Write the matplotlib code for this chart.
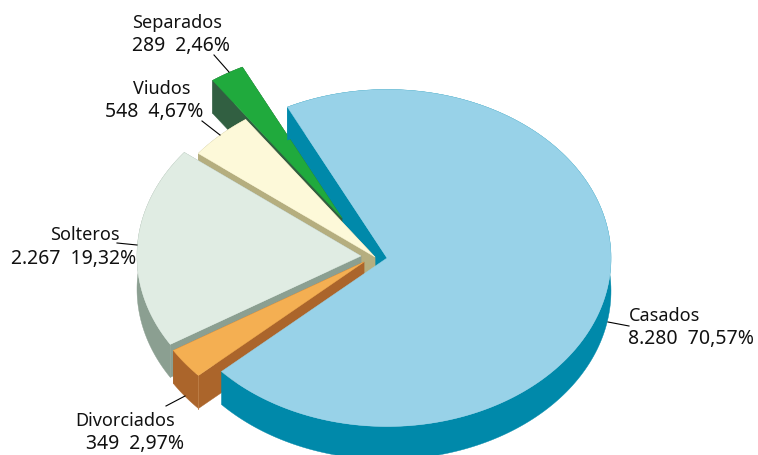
import matplotlib
matplotlib.use("Agg")
import matplotlib.pyplot as plt
import numpy as np

plt.rcParams['font.family'] = ['Noto Sans', 'DejaVu Sans']

# slices in clockwise order, starting at Casados
names = ["Casados", "Divorciados", "Solteros", "Viudos", "Separados"]
values = [8280, 349, 2267, 548, 289]
value_labels = ["8.280", "349", "2.267", "548", "289"]
pct_labels = ["70,57%", "2,97%", "19,32%", "4,67%", "2,46%"]

top_colors = ["#98d2e8", "#f4af52", "#e0ece3", "#fdf9d9", "#20aa3d"]
side_colors = ["#0089aa", "#ab652b", "#8b9f91", "#b5ae7f", "#315f41"]

# apex of every slice in pixels (the exploded look)
apex = [(387, 258), (364, 262), (361, 256), (375, 257), (342, 218)]
a, b = 224, 168.5
depth = 33
start = -26.4

# text: left edge of each line and baselines
name_pos = [(629, 321), (75, 426), (50, 240), (133, 94), (132, 28)]
val_pos = [(628, 344), (86, 449), (11, 264), (105, 117), (132, 51)]
leaders = [[(608, 322), (629, 326)], [(166, 406), (185, 396)], [(117, 243), (137, 245)],
           [(202, 121), (220, 135)], [(214, 55), (229, 72)]]

fig = plt.figure(figsize=(7.58, 4.55), dpi=100)
ax = fig.add_axes([0, 0, 1, 1])
ax.set_xlim(0, 758)
ax.set_ylim(455, 0)
ax.axis("off")

edges = start + np.concatenate([[0], np.cumsum(values)]) / sum(values) * 360


def arc(i):
    t = np.radians(np.linspace(edges[i], edges[i + 1], 200))
    cx, cy = apex[i]
    return cx + a * np.sin(t), cy - b * np.cos(t)


def fill(x, y, color, z):
    ax.fill(x, y, color=color, lw=0.3, zorder=z)


def draw_slice(i, z, cuts=True):
    x, y = arc(i)
    cx, cy = apex[i]
    fill(np.r_[x, x[::-1]], np.r_[y, y[::-1] + depth], side_colors[i], z)
    if cuts:
        for px, py in [(x[0], y[0]), (x[-1], y[-1])]:
            fill([px, cx, cx, px], [py, cy, cy + depth, py + depth], side_colors[i], z)
    fill(np.r_[cx, x], np.r_[cy, y], top_colors[i], z + 0.5)


# upper cut face of Casados goes behind the other slices
x0, y0 = arc(0)
fill([x0[0], apex[0][0], apex[0][0], x0[0]],
     [y0[0], apex[0][1], apex[0][1] + depth, y0[0] + depth], side_colors[0], 1)

draw_slice(4, 2)
draw_slice(3, 3)
draw_slice(2, 4)
draw_slice(1, 5)
draw_slice(0, 6, cuts=False)

# crease on the Divorciados corner
x1, y1 = arc(1)
ax.plot([x1[0], x1[0]], [y1[0], y1[0] + depth], color="#bd7d45", lw=0.6, zorder=5.2)

for i in range(len(names)):
    ax.text(*name_pos[i], names[i], fontsize=13, color="#111111", va="baseline", ha="left", zorder=10)
    ax.text(*val_pos[i], value_labels[i] + "  " + pct_labels[i], fontsize=14, color="#111111",
            va="baseline", ha="left", zorder=10)
    (lx0, ly0), (lx1, ly1) = leaders[i]
    ax.plot([lx0, lx1], [ly0, ly1], color="black", lw=0.8, zorder=9)

fig.savefig("out.png", dpi=100)
